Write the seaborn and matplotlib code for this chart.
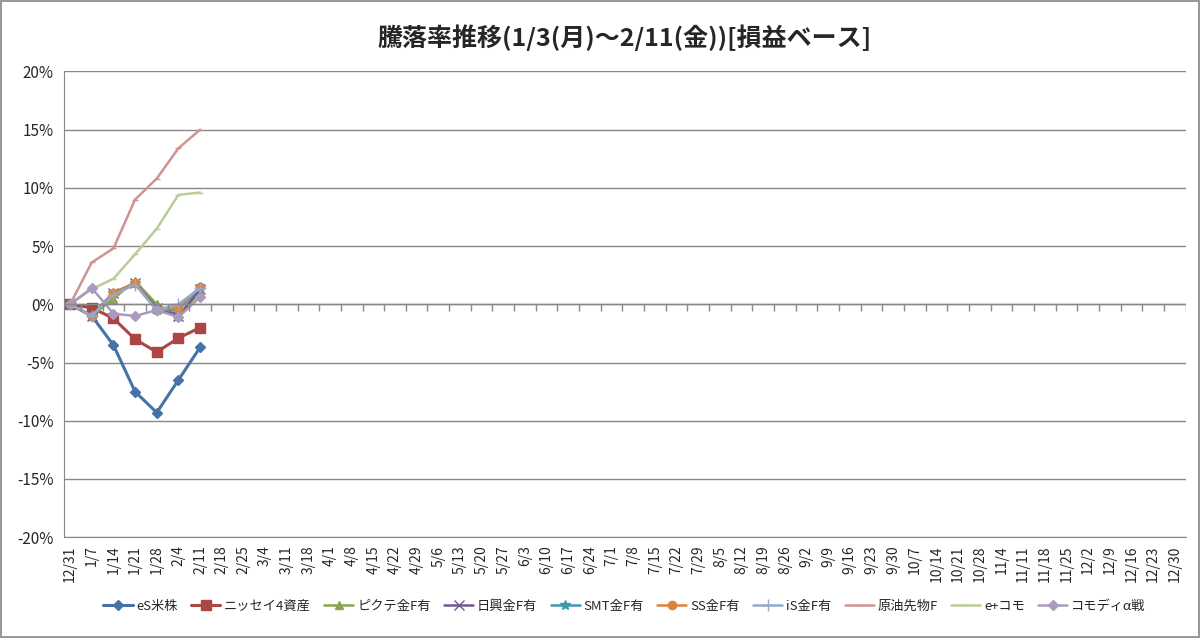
import pandas as pd
import numpy as np
import seaborn as sns
import matplotlib.pyplot as plt

dates = ['12/31', '1/7', '1/14', '1/21', '1/28', '2/4', '2/11', '2/18', '2/25', '3/4', '3/11',
         '3/18', '4/1', '4/8', '4/15', '4/22', '4/29', '5/6', '5/13', '5/20', '5/27', '6/3',
         '6/10', '6/17', '6/24', '7/1', '7/8', '7/15', '7/22', '7/29', '8/5', '8/12', '8/19',
         '8/26', '9/2', '9/9', '9/16', '9/23', '9/30', '10/7', '10/14', '10/21', '10/28',
         '11/4', '11/11', '11/18', '11/25', '12/2', '12/9', '12/16', '12/23', '12/30']

names = ['eS米株', 'ニッセイ4資産', 'ピクテ金F有', '日興金F有', 'SMT金F有', 'SS金F有',
         'iS金F有', '原油先物F', 'e+コモ', 'コモディα戦']
es = [0, -1.0, -3.5, -7.5, -9.3, -6.5, -3.7]
nissay = [0, -0.3, -1.2, -3.0, -4.1, -2.9, -2.0]
pictet = [0, -1.0, 0.5, 2.0, 0.0, -1.0, 1.0]
nikko = [0, -1.0, 1.0, 1.8, -0.3, -1.0, 1.3]
smt = [0, -1.0, 1.0, 1.8, -0.5, -0.5, 1.5]
ss = [0, -1.0, 1.0, 1.8, -0.5, -0.3, 1.5]
ishares = [0, -1.0, 0.8, 1.7, -0.5, 0.0, 1.4]
crude = [0, 3.6, 4.8, 9.0, 10.8, 13.4, 15.0]
eplus = [0, 1.3, 2.2, 4.3, 6.5, 9.4, 9.6]
alpha = [0, 1.4, -0.8, -1.0, -0.5, -1.1, 0.6]
series = [es, nissay, pictet, nikko, smt, ss, ishares, crude, eplus, alpha]

colors = ['#4572A7', '#AA4643', '#89A54E', '#71588F', '#4198AF', '#DB843D',
          '#93A9CF', '#D19392', '#B9CD96', '#A99BBD']
markers = ['D', 's', '^', 'x', '*', 'o', '+', '_', '_', 'D']
sizes = [5, 7, 6, 7, 7, 6, 8, 5, 5, 5]

rows = []
for n, vals in zip(names, series):
    for i, v in enumerate(vals):
        rows.append({'pos': i, 'val': v / 100, 'name': n})
df = pd.DataFrame(rows)

sns.set_style('white')
plt.rcParams['font.family'] = ['Noto Sans CJK JP', 'DejaVu Sans']

fig, ax = plt.subplots(figsize=(12, 6.38), dpi=100)
fig.subplots_adjust(left=0.053, right=0.988, top=0.888, bottom=0.158)
for n, c, m, s in zip(names, colors, markers, sizes):
    sub = df[df['name'] == n]
    sns.lineplot(data=sub, x='pos', y='val', ax=ax, color=c, marker=m, markersize=s,
                 linewidth=2.2 if n in names[:2] else 1.8, label=n,
                 markeredgecolor=c, markeredgewidth=1)

ax.set_xlim(-0.3, len(dates) - 0.5)
ax.set_ylim(-0.2, 0.2)
yt = np.arange(-0.2, 0.201, 0.05)
ax.set_yticks(yt)
ax.set_yticklabels([f'{int(round(v * 100))}%' for v in yt], fontsize=11)
ax.set_xticks(range(len(dates)))
ax.set_xticklabels(dates, fontsize=10)
plt.setp(ax.get_xticklabels(), rotation=90)
ax.set_xlabel('')
ax.set_ylabel('')
ax.yaxis.grid(True, color='#888888', linewidth=1)
ax.axhline(0, color='#888888', linewidth=1)
# small tick marks on the zero line like the reference
ax.vlines(np.arange(len(dates)) + 0.5, 0, -0.006, color='#888888', linewidth=1)
for sp in ['top', 'right']:
    ax.spines[sp].set_visible(False)
ax.spines['left'].set_color('#888888')
ax.spines['bottom'].set_color('#888888')
ax.tick_params(axis='x', length=0, pad=6)
ax.set_title('騰落率推移(1/3(月)～2/11(金))[損益ベース]', fontsize=18, fontweight='bold', pad=18)
ax.legend(loc='center', bbox_to_anchor=(0.5, -0.148), ncol=10, frameon=False,
          fontsize=9.5, handlelength=2.2, columnspacing=1.0, handletextpad=0.3)
fig.patch.set_edgecolor('#999999')
fig.patch.set_linewidth(1.5)
plt.savefig('out.png')
